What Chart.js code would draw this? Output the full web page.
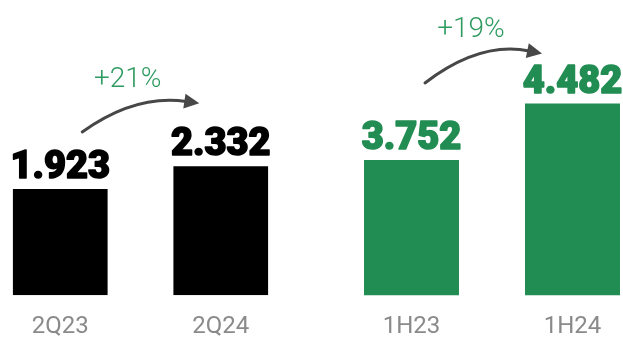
<!DOCTYPE html>
<html>
<head>
<meta charset="utf-8">
<script src="https://cdn.jsdelivr.net/npm/chart.js@4/dist/chart.umd.min.js"></script>
<style>
    html, body { margin: 0; padding: 0; background: #ffffff; overflow: hidden; }
    body { width: 623px; height: 337px; position: relative; }
    .box { position: absolute; top: 0; height: 358px; }
</style>
</head>
<body>
<div class="box" style="left:-20px;width:321px"><canvas id="chartQ"></canvas></div>
<div class="box" style="left:331px;width:322px"><canvas id="chartH"></canvas></div>
<script>
// Data
var quarterLabels = ['2Q23', '2Q24'];
var quarterValues = [1.923, 2.332];
var quarterGrowth = '+21%';

var halfLabels = ['1H23', '1H24'];
var halfValues = [3.752, 4.482];
var halfGrowth = '+19%';

var BLACK = '#000000';
var GREEN = '#228d53';
var GREEN_LIGHT = '#2f9b60';
var ARROW = '#474747';

// Value on top of every bar (stroked a little to get the heavy look)
var valueLabels = {
    id: 'valueLabels',
    afterDatasetsDraw: function(chart) {
        var ctx = chart.ctx;
        var meta = chart.getDatasetMeta(0);
        var values = chart.data.datasets[0].data;
        var color = chart.options.plugins.valueLabels.color;
        ctx.save();
        ctx.font = '900 38px Roboto, "Liberation Sans", sans-serif';
        ctx.fillStyle = color;
        ctx.strokeStyle = color;
        ctx.lineWidth = 1.6;
        ctx.lineJoin = 'round';
        ctx.textAlign = 'center';
        ctx.textBaseline = 'alphabetic';
        meta.data.forEach(function(bar, i) {
            var txt = values[i].toFixed(3);
            ctx.fillText(txt, bar.x, bar.y - 11);
            ctx.strokeText(txt, bar.x, bar.y - 11);
        });
        ctx.restore();
    }
};

// Curved arrow + growth text between the two bars
var growthArrow = {
    id: 'growthArrow',
    afterDatasetsDraw: function(chart) {
        var o = chart.options.plugins.growthArrow;
        var meta = chart.getDatasetMeta(0);
        var b0 = meta.data[0], b1 = meta.data[1];
        var sx = b0.x + o.start[0], sy = b0.y + o.start[1];
        var cx = b0.x + o.ctrl[0], cy = b0.y + o.ctrl[1];
        var tx = b1.x + o.tip[0], ty = b1.y + o.tip[1];
        var ang = Math.atan2(ty - cy, tx - cx);
        var headLen = 15, headW = 7.5;
        var ex = tx - Math.cos(ang) * (headLen - 2), ey = ty - Math.sin(ang) * (headLen - 2);
        var ctx = chart.ctx;
        ctx.save();
        ctx.strokeStyle = ARROW;
        ctx.fillStyle = ARROW;
        ctx.lineWidth = 3;
        ctx.lineCap = 'round';
        ctx.beginPath();
        ctx.moveTo(sx, sy);
        ctx.quadraticCurveTo(cx, cy, ex, ey);
        ctx.stroke();
        var bx = tx - Math.cos(ang) * headLen, by = ty - Math.sin(ang) * headLen;
        ctx.beginPath();
        ctx.moveTo(tx, ty);
        ctx.lineTo(bx - Math.sin(ang) * headW, by + Math.cos(ang) * headW);
        ctx.lineTo(bx + Math.sin(ang) * headW, by - Math.cos(ang) * headW);
        ctx.closePath();
        ctx.fill();
        // growth text
        ctx.font = '300 28px Roboto, "Liberation Sans", sans-serif';
        ctx.fillStyle = GREEN_LIGHT;
        ctx.textAlign = 'center';
        ctx.textBaseline = 'alphabetic';
        ctx.fillText(o.text, b0.x + o.text_at[0], b0.y + o.text_at[1]);
        ctx.restore();
    }
};

function makeChart(id, labels, values, color, yMin, yMax, arrow) {
    return new Chart(document.getElementById(id), {
        type: 'bar',
        data: {
            labels: labels,
            datasets: [{
                data: values,
                backgroundColor: color,
                borderWidth: 0,
                barPercentage: 0.59,
                categoryPercentage: 1
            }]
        },
        options: {
            responsive: true,
            maintainAspectRatio: false,
            animation: false,
            layout: { padding: { top: 20, left: 0, right: 0, bottom: 0 } },
            scales: {
                x: {
                    grid: { display: false, drawTicks: false },
                    border: { display: false },
                    ticks: {
                        color: '#8a8a8a',
                        padding: 17,
                        font: { family: 'Roboto', size: 24, weight: '400' }
                    }
                },
                y: {
                    display: false,
                    min: yMin,
                    max: yMax
                }
            },
            plugins: {
                legend: { display: false },
                tooltip: { enabled: false },
                valueLabels: { color: color },
                growthArrow: arrow
            }
        },
        plugins: [valueLabels, growthArrow]
    });
}

makeChart('chartQ', quarterLabels, quarterValues, BLACK, 0, 4.98, {
    text: quarterGrowth,
    start: [22, -57],
    ctrl: [75, -95],
    tip: [-21.5, -63],
    text_at: [67.5, -102]
});

makeChart('chartH', halfLabels, halfValues, GREEN, 2.0, 5.565, {
    text: halfGrowth,
    start: [13.5, -77],
    ctrl: [68.5, -119],
    tip: [-30.5, -50],
    text_at: [59.5, -123]
});
</script>
</body>
</html>
